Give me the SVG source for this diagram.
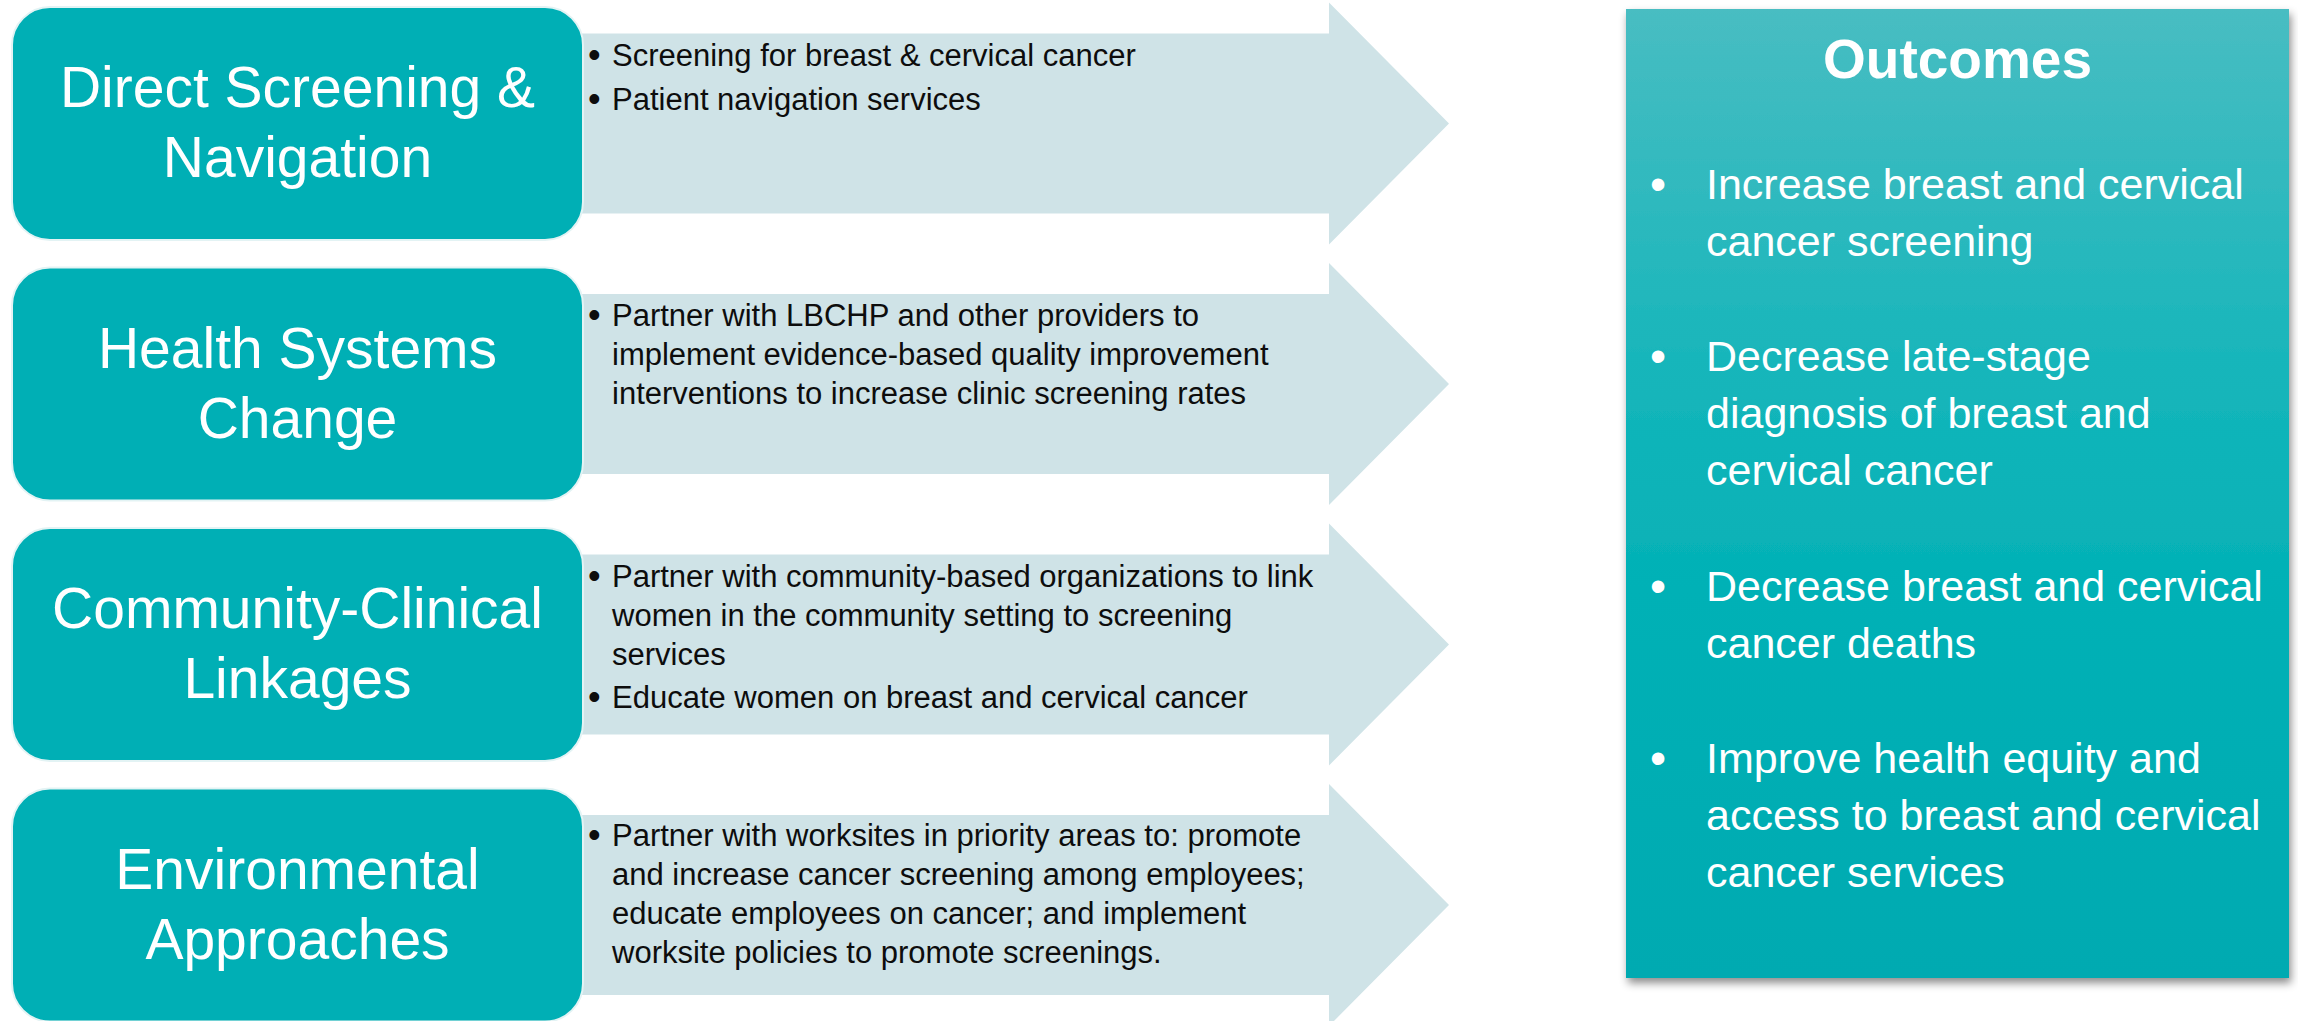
<svg xmlns="http://www.w3.org/2000/svg" xmlns:xlink="http://www.w3.org/1999/xlink" width="2298" height="1021" viewBox="0 0 2298 1021">
  <style>
    .box { fill: #00AFB5; stroke: #E3F3F4; stroke-width: 2; }
    .arrow { fill: #CFE3E7; }
    .boxtxt { font-family: "Liberation Sans", Arial, sans-serif; font-size: 57px; fill: #FFFFFF; text-anchor: middle; }
    .acttxt { font-family: "Liberation Sans", Arial, sans-serif; font-size: 31px; fill: #0D0D0D; }
    .actbul { font-family: "Liberation Sans", Arial, sans-serif; font-size: 36px; fill: #0D0D0D; }
    .outtitle { font-family: "Liberation Sans", Arial, sans-serif; font-size: 55px; font-weight: bold; fill: #FFFFFF; text-anchor: middle; }
    .outtxt { font-family: "Liberation Sans", Arial, sans-serif; font-size: 43px; fill: #FFFFFF; }
    .outbul { font-family: "Liberation Sans", Arial, sans-serif; font-size: 46px; fill: #FFFFFF; }
  </style>
  <defs>
    <path id="blockArrow" d="M0,-90 H754 V-121 L874,0 L754,121 V90 H0 Z"/>
    <linearGradient id="outGrad" x1="0" y1="0" x2="0" y2="1">
      <stop offset="0" stop-color="#48BDC2"/>
      <stop offset="0.2" stop-color="#2EB9BE"/>
      <stop offset="0.4" stop-color="#13B5BA"/>
      <stop offset="0.6" stop-color="#03B1B6"/>
      <stop offset="1" stop-color="#01AAB1"/>
    </linearGradient>
    <filter id="shadow" x="-5%" y="-5%" width="110%" height="110%">
      <feDropShadow dx="2" dy="5" stdDeviation="4" flood-color="#000000" flood-opacity="0.45"/>
    </filter>
  </defs>

  <rect width="2298" height="1021" fill="#FFFFFF"/>

  <g id="connectors">
    <use xlink:href="#blockArrow" href="#blockArrow" class="arrow" x="575" y="123.5"/>
    <use xlink:href="#blockArrow" href="#blockArrow" class="arrow" x="575" y="384"/>
    <use xlink:href="#blockArrow" href="#blockArrow" class="arrow" x="575" y="644.5"/>
    <use xlink:href="#blockArrow" href="#blockArrow" class="arrow" x="575" y="905"/>
  </g>

  <g id="activities-direct">
    <text class="actbul" x="588" y="67">•</text>
    <text class="acttxt" x="612" y="66">Screening for breast &amp; cervical cancer</text>
    <text class="actbul" x="588" y="111">•</text>
    <text class="acttxt" x="612" y="110">Patient navigation services</text>
  </g>

  <g id="activities-health">
    <text class="actbul" x="588" y="327">•</text>
    <text class="acttxt" x="612" y="326">Partner with LBCHP and other providers to</text>
    <text class="acttxt" x="612" y="365">implement evidence-based quality improvement</text>
    <text class="acttxt" x="612" y="404">interventions to increase clinic screening rates</text>
  </g>

  <g id="activities-community">
    <text class="actbul" x="588" y="588">•</text>
    <text class="acttxt" x="612" y="587">Partner with community-based organizations to link</text>
    <text class="acttxt" x="612" y="626">women in the community setting to screening</text>
    <text class="acttxt" x="612" y="665">services</text>
    <text class="actbul" x="588" y="709">•</text>
    <text class="acttxt" x="612" y="708">Educate women on breast and cervical cancer</text>
  </g>

  <g id="activities-environmental">
    <text class="actbul" x="588" y="847">•</text>
    <text class="acttxt" x="612" y="846">Partner with worksites in priority areas to: promote</text>
    <text class="acttxt" x="612" y="885">and increase cancer screening among employees;</text>
    <text class="acttxt" x="612" y="924">educate employees on cancer; and implement</text>
    <text class="acttxt" x="612" y="963">worksite policies to promote screenings.</text>
  </g>

  <g id="node-direct">
    <rect class="box" x="12" y="7" width="571" height="233" rx="38" ry="38"/>
    <text class="boxtxt" x="297.5" y="107">Direct Screening &amp;</text>
    <text class="boxtxt" x="297.5" y="177">Navigation</text>
  </g>

  <g id="node-health">
    <rect class="box" x="12" y="267.5" width="571" height="233" rx="38" ry="38"/>
    <text class="boxtxt" x="297.5" y="367.5">Health Systems</text>
    <text class="boxtxt" x="297.5" y="437.5">Change</text>
  </g>

  <g id="node-community">
    <rect class="box" x="12" y="528" width="571" height="233" rx="38" ry="38"/>
    <text class="boxtxt" x="297.5" y="628">Community-Clinical</text>
    <text class="boxtxt" x="297.5" y="698">Linkages</text>
  </g>

  <g id="node-environmental">
    <rect class="box" x="12" y="788.5" width="571" height="233" rx="38" ry="38"/>
    <text class="boxtxt" x="297.5" y="888.5">Environmental</text>
    <text class="boxtxt" x="297.5" y="958.5">Approaches</text>
  </g>

  <g id="node-outcomes">
    <rect x="1626" y="9" width="663" height="969" fill="url(#outGrad)" filter="url(#shadow)"/>
    <text class="outtitle" x="1957.5" y="78">Outcomes</text>
    <text class="outbul" x="1650" y="200">•</text>
    <text class="outtxt" x="1706" y="199">Increase breast and cervical</text>
    <text class="outtxt" x="1706" y="256">cancer screening</text>
    <text class="outbul" x="1650" y="372">•</text>
    <text class="outtxt" x="1706" y="371">Decrease late-stage</text>
    <text class="outtxt" x="1706" y="428">diagnosis of breast and</text>
    <text class="outtxt" x="1706" y="485">cervical cancer</text>
    <text class="outbul" x="1650" y="602">•</text>
    <text class="outtxt" x="1706" y="601">Decrease breast and cervical</text>
    <text class="outtxt" x="1706" y="658">cancer deaths</text>
    <text class="outbul" x="1650" y="774">•</text>
    <text class="outtxt" x="1706" y="773">Improve health equity and</text>
    <text class="outtxt" x="1706" y="830">access to breast and cervical</text>
    <text class="outtxt" x="1706" y="887">cancer services</text>
  </g>
</svg>
